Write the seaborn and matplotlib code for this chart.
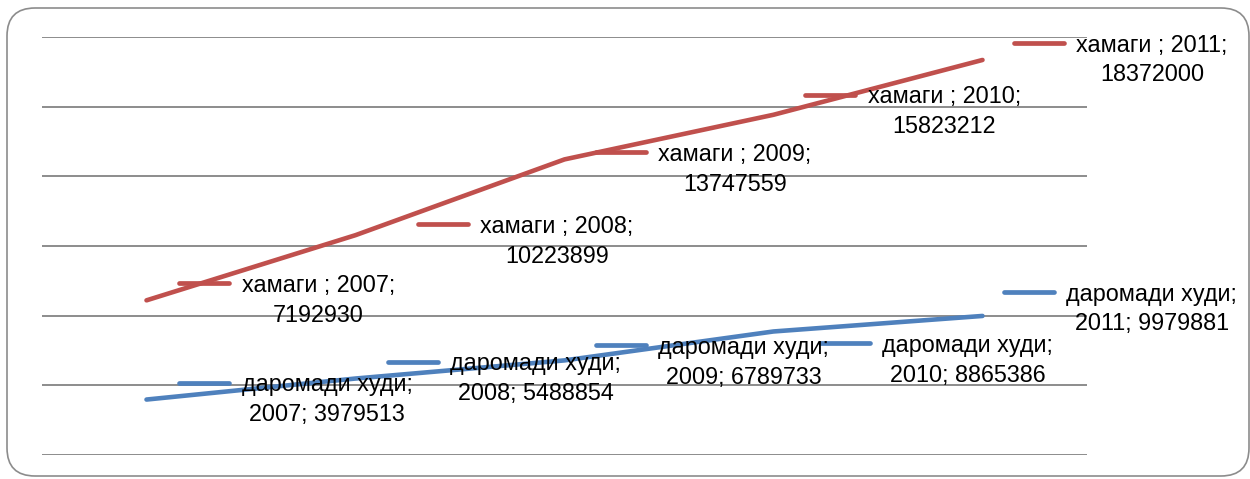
import matplotlib
matplotlib.use("Agg")
import matplotlib.pyplot as plt
import seaborn as sns
import numpy as np
from matplotlib.markers import MarkerStyle
from matplotlib.patches import FancyBboxPatch
from matplotlib.transforms import IdentityTransform, offset_copy

years = [2007, 2008, 2009, 2010, 2011]
hamagi = [7192930, 10223899, 13747559, 15823212, 18372000]
daromad = [3979513, 5488854, 6789733, 8865386, 9979881]
name_hamagi = "хамаги "
name_daromad = "даромади худи"

RED = "#C0504D"
BLUE = "#4F81BD"
GRID = "#8C8C8C"

sns.set_theme(style="white")
plt.rcParams['font.family'] = ['Liberation Sans', 'DejaVu Sans']

fig = plt.figure(figsize=(12.5, 4.79), dpi=100)
ax = fig.add_axes([42 / 1250, 1 - 455 / 479, (1087 - 42) / 1250, (455 - 37) / 479])
ax2 = ax.twinx()

sns.lineplot(x=years, y=hamagi, ax=ax, color=RED, linewidth=3.3, solid_capstyle="round")
sns.lineplot(x=years, y=daromad, ax=ax2, color=BLUE, linewidth=3.3, solid_capstyle="round")

ax.set_xlim(2006.5, 2011.5)
ax.set_ylim(0, 19.44e6)
ax2.set_ylim(0, 30e6)
ax2.set_yticks(np.arange(0, 30e6 + 1, 5e6))
ax2.yaxis.grid(True, color=GRID, linewidth=1.4)
ax.yaxis.grid(False)
ax.xaxis.grid(False)
for a in (ax, ax2):
    a.set_facecolor("none")
    for s in a.spines.values():
        s.set_visible(False)
    a.tick_params(left=False, right=False, bottom=False, labelleft=False,
                  labelright=False, labelbottom=False)
    a.set_xlabel("")
    a.set_ylabel("")
# red axis on top, gridlines (from the blue axis) underneath
ax.set_zorder(2)
ax2.set_zorder(1)
ax.patch.set_visible(False)

# label nudges in pixels: (key start right of point, text centre down from point)
nudge_red = [(30, 0), (60, 6), (29, 10), (29, -3), (29, 0)]
nudge_blue = [(30, 0), (30, 0), (29, 2), (44, 29), (19, -7)]

key_marker = MarkerStyle("_", capstyle="round")


def add_labels(a, vals, name, color, nudges, blue):
    for yr, v, (dx, dy) in zip(years, vals, nudges):
        tr = offset_copy(a.transData, fig=fig, x=dx + 27, y=-dy + 17, units="dots")
        a.plot([yr], [v], marker=key_marker, ms=36, mew=3.4, color=color,
               transform=tr, clip_on=False, zorder=5)
        if blue:
            txt = f"{name};\n{yr}; {v}"
        else:
            txt = f"{name}; {yr};\n{v}"
        a.annotate(txt, xy=(yr, v), xytext=(dx + 65, -dy), textcoords="offset pixels",
                   ha="left", va="center", multialignment="center", fontsize=16.8,
                   color="black", annotation_clip=False, zorder=6, linespacing=1.38)


add_labels(ax, hamagi, name_hamagi, RED, nudge_red, False)
add_labels(ax2, daromad, name_daromad, BLUE, nudge_blue, True)

frame = FancyBboxPatch((7, 3), 1242, 468, boxstyle="round,pad=0,rounding_size=28",
                       transform=IdentityTransform(), facecolor="none",
                       edgecolor=GRID, linewidth=1.2)
fig.add_artist(frame)

fig.savefig("out.png", dpi=100)
